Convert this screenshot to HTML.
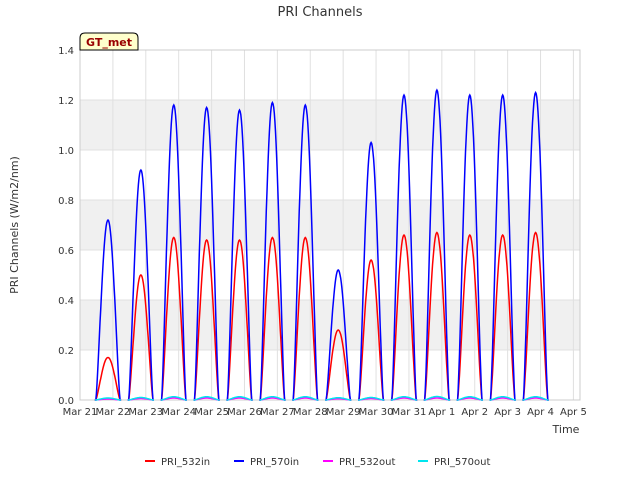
<!DOCTYPE html>
<html><head><meta charset="utf-8"><style>
body{margin:0;background:#fff;font-family:"DejaVu Sans","Liberation Sans",sans-serif;}
svg text{font-family:"DejaVu Sans","Liberation Sans",sans-serif;}
</style></head><body>
<svg id="chart" width="640" height="480" xmlns="http://www.w3.org/2000/svg">
<rect width="640" height="480" fill="#fff"/>
<text x="320" y="16" text-anchor="middle" font-size="13" fill="#333">PRI Channels</text>
<g id="plot"></g>
<text transform="translate(18,225) rotate(-90)" text-anchor="middle" font-size="11" fill="#333">PRI Channels (W/m2/nm)</text>
<text x="566" y="433" text-anchor="middle" font-size="11" fill="#333">Time</text>
<g>
<path d="M80,50 L80,38 Q80,33 85,33 L133,33 Q138,33 138,38 L138,50 Z" fill="#ffffcc" stroke="#000" stroke-width="1"/>
<text x="109" y="46" text-anchor="middle" font-size="11" font-weight="bold" fill="#990000">GT_met</text>
</g>
<g id="legend"></g>
</svg>
<script>
const dayLabels=["Mar 21","Mar 22","Mar 23","Mar 24","Mar 25","Mar 26","Mar 27","Mar 28","Mar 29","Mar 30","Mar 31","Apr 1","Apr 2","Apr 3","Apr 4","Apr 5"];
const yTicks=[0,0.2,0.4,0.6,0.8,1.0,1.2,1.4];
const peak570in=[0.72,0.92,1.18,1.17,1.16,1.19,1.18,0.52,1.03,1.22,1.24,1.22,1.22,1.23];
const peak532in=[0.17,0.50,0.65,0.64,0.64,0.65,0.65,0.28,0.56,0.66,0.67,0.66,0.66,0.67];
const peak532out=[0.004,0.006,0.008,0.008,0.008,0.008,0.008,0.005,0.006,0.008,0.008,0.008,0.008,0.008];
const peak570out=[0.008,0.010,0.013,0.013,0.013,0.013,0.013,0.009,0.010,0.013,0.014,0.013,0.013,0.013];
const X0=80,X1=580,Y0=400,Y1=50,xMax=15.2;
const xs=d=>X0+(d/xMax)*(X1-X0);
const ys=v=>Y0-(v/1.4)*(Y0-Y1);
const NS="http://www.w3.org/2000/svg";
const plot=document.getElementById('plot');
function mk(tag,attrs,parent){const e=document.createElementNS(NS,tag);for(const k in attrs)e.setAttribute(k,attrs[k]);(parent||plot).appendChild(e);return e;}
for(let i=0;i<yTicks.length-1;i++){
  if(i%2===1){const r=mk('rect',{x:X0,y:ys(yTicks[i+1]),width:X1-X0,height:ys(yTicks[i])-ys(yTicks[i+1]),fill:'#f0f0f0'});
  
  }
}
yTicks.forEach(t=>{
  const l=mk('line',{x1:X0,x2:X1,y1:ys(t),y2:ys(t),stroke:'#e0e0e0','stroke-width':1});
  
  
  const tx=mk('text',{x:X0-6,y:ys(t)+4,'text-anchor':'end','font-size':10,fill:'#333'});
  tx.textContent=t.toFixed(1);
  
  
});
dayLabels.forEach((lab,i)=>{
  const l=mk('line',{x1:xs(i),x2:xs(i),y1:Y1,y2:Y0,stroke:'#e0e0e0','stroke-width':1});
  
  
  const tx=mk('text',{x:xs(i),y:Y0+15,'text-anchor':'middle','font-size':10,fill:'#333'});
  tx.textContent=lab;
  
  
});
const frame=mk('rect',{x:X0,y:Y1,width:X1-X0,height:Y0-Y1,fill:'none',stroke:'#ccc'});


function series(peaks,color,name,w){
  let d='';
  peaks.forEach((p,i)=>{
    const c=i+0.85,hw=0.37;
    d+=`M${xs(c-hw-0.03).toFixed(1)},${ys(0).toFixed(1)}`;
    for(let k=0;k<=40;k++){
      const t=c-hw+2*hw*k/40;
      const s=Math.sin(Math.PI*k/40);
      d+=`L${xs(t).toFixed(1)},${ys(p*Math.pow(s,1.3)).toFixed(1)}`;
    }
    d+=`L${xs(c+hw+0.03).toFixed(1)},${ys(0).toFixed(1)}`;
  });
  const path=mk('path',{d:d,fill:'none',stroke:color,'stroke-width':w});
  
  
}
series(peak532in,'#ff0000','series-pri-532in',1.5);
series(peak570in,'#0000ff','series-pri-570in',1.5);
series(peak532out,'#ff00ff','series-pri-532out',1.5);
series(peak570out,'#00e5ee','series-pri-570out',1.5);
const leg=document.getElementById('legend');
const items=[["PRI_532in","#ff0000",145],["PRI_570in","#0000ff",234],["PRI_532out","#ff00ff",323],["PRI_570out","#00e5ee",418]];
items.forEach(([n,c,x])=>{
  const l=mk('line',{x1:x,x2:x+10,y1:461,y2:461,stroke:c,'stroke-width':2},leg);
  
  
  const t=mk('text',{x:x+16,y:465,'font-size':10,fill:'#333'},leg);
  t.textContent=n;
  
  
});
</script>
</body></html>
